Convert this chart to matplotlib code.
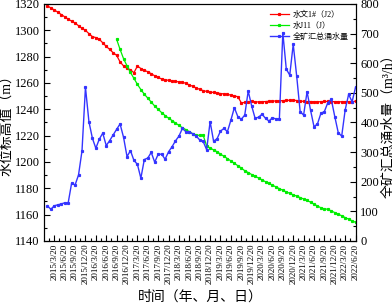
import numpy as np
import matplotlib
matplotlib.use("Agg")
from matplotlib import pyplot as plt
from matplotlib.ticker import MultipleLocator

plt.rcParams["font.family"] = ["Liberation Serif", "Noto Sans CJK SC"]
plt.rcParams["axes.unicode_minus"] = False

# month index: 0 = 2015/3/20, one step per month
tick_labels = [f"{2015 + (3 + 3 * i - 1) // 12}/{(3 + 3 * i - 1) % 12 + 1}/20" for i in range(30)]

blue_start = -2
blue_flow = [119, 107, 119, 122, 125, 129, 128, 195, 189, 223,
             304, 519, 403, 347, 313, 344, 364, 322, 339, 358,
             377, 395, 350, 285, 305, 272, 259, 212, 275, 280,
             299, 266, 293, 293, 276, 301, 318, 338, 354, 380,
             369, 369, 361, 354, 341, 336, 308, 403, 337, 345,
             371, 380, 369, 408, 450, 420, 411, 425, 506, 456,
             414, 418, 428, 414, 405, 416, 412, 412, 703, 580,
             560, 664, 557, 437, 425, 504, 442, 386, 395, 431,
             437, 467, 478, 420, 366, 354, 442, 495, 470, 519]

red_start = -2
red_level = [1318.7, 1317.0, 1315.5, 1313.8, 1312.0, 1310.3, 1308.5, 1307.0, 1305.5, 1303.5,
             1301.5, 1300.0, 1297.5, 1295.2, 1294.5, 1293.2, 1290.5, 1287.8, 1285.5, 1283.0,
             1281.0, 1276.0, 1273.0, 1271.2, 1270.0, 1267.8, 1272.9, 1271.0, 1269.5, 1268.6,
             1267.0, 1265.5, 1264.3, 1263.0, 1262.5, 1262.0, 1261.5, 1261.2, 1260.8, 1260.5,
             1259.8, 1258.5, 1257.5, 1256.2, 1255.2, 1254.2, 1253.6, 1253.2, 1252.8, 1252.4,
             1252.0, 1251.7, 1251.3, 1250.8, 1250.2, 1249.6, 1245.0, 1245.2, 1245.5, 1246.0,
             1245.7, 1245.6, 1245.8, 1245.9, 1246.1, 1246.2, 1246.4, 1246.5, 1246.6, 1246.8,
             1246.9, 1246.9, 1246.7, 1246.4, 1246.0, 1245.8, 1245.9, 1245.8, 1245.7, 1245.8,
             1246.0, 1246.0, 1245.9, 1245.8, 1245.8, 1245.7, 1245.8, 1245.8, 1245.2, 1246.5]

green_start = 18
green_level = [1293.2, 1285.5, 1278.5, 1273.0, 1268.0, 1263.5, 1259.0, 1255.0, 1251.5, 1248.5,
               1245.5, 1242.5, 1240.0, 1237.5, 1235.3, 1233.3, 1231.5, 1229.6, 1227.8, 1226.0,
               1224.6, 1223.0, 1221.5, 1220.3, 1220.3, 1220.3, 1212.2, 1210.6, 1209.2, 1207.8,
               1206.0, 1204.3, 1202.6, 1200.8, 1199.0, 1197.2, 1195.4, 1193.4, 1192.0, 1190.5,
               1189.2, 1187.8, 1186.4, 1185.0, 1183.7, 1182.4, 1181.1, 1179.8, 1178.5, 1177.3,
               1176.2, 1175.1, 1174.1, 1173.0, 1171.9, 1170.8, 1169.5, 1168.0, 1166.6, 1165.2,
               1164.4, 1164.1, 1162.8, 1161.6, 1160.3, 1159.2, 1157.8, 1156.6, 1155.3, 1154.2]

x_blue = np.arange(len(blue_flow)) + blue_start
x_red = np.arange(len(red_level)) + red_start
x_green = np.arange(len(green_level)) + green_start

fig = plt.figure(figsize=(3.92, 3.07), dpi=100)
ax = fig.add_axes([0.1135, 0.215, 0.7935, 0.772])
ax2 = ax.twinx()

l1, = ax.plot(x_red, red_level, color="#ff0000", lw=0.9, marker="s", ms=1.3, label="水文1#（J2）")
l2, = ax.plot(x_green, green_level, color="#00ee00", lw=0.9, marker="s", ms=1.3, label="水J11（J）")
l3, = ax2.plot(x_blue, blue_flow, color="#3434ff", lw=1.0, marker="s", ms=1.3, label="全矿汇总涌水量")

ax.set_xlim(-2.83, 87)
ax.set_ylim(1140, 1320)
ax2.set_ylim(0, 800)

ax.set_xticks(np.arange(0, 88, 3))
ax.set_xticklabels(tick_labels, rotation=90)
ax.xaxis.set_minor_locator(MultipleLocator(1.5))
ax.yaxis.set_major_locator(MultipleLocator(20))
ax.yaxis.set_minor_locator(MultipleLocator(10))
ax2.yaxis.set_major_locator(MultipleLocator(100))
ax2.yaxis.set_minor_locator(MultipleLocator(50))

for a in (ax, ax2):
    a.tick_params(which="both", direction="in", labelsize=9, width=0.8)
    a.tick_params(which="major", length=4)
    a.tick_params(which="minor", length=2)
    for s in a.spines.values():
        s.set_linewidth(0.8)
ax.tick_params(axis="x", labelsize=6.5, pad=2)

ax.set_ylabel("水位标高值（m）", fontsize=10, labelpad=1)
ax.set_xlabel("时间（年、月、日）", fontsize=10, labelpad=4)
# right label sits at the figure edge, partly clipped as in the source
fig.text(0.99, 0.215 + 0.772 / 2, "全矿汇总涌水量（m³/h）", rotation=90, fontsize=10,
         ha="center", va="center")

ax.legend([l1, l2, l3], [l1.get_label(), l2.get_label(), l3.get_label()],
          loc="upper right", bbox_to_anchor=(1.0, 1.0), frameon=False,
          fontsize=5.8, handlelength=2.4, numpoints=1, labelspacing=0.35,
          borderpad=0.3, handletextpad=0.5)

fig.savefig("out.png", dpi=100)
